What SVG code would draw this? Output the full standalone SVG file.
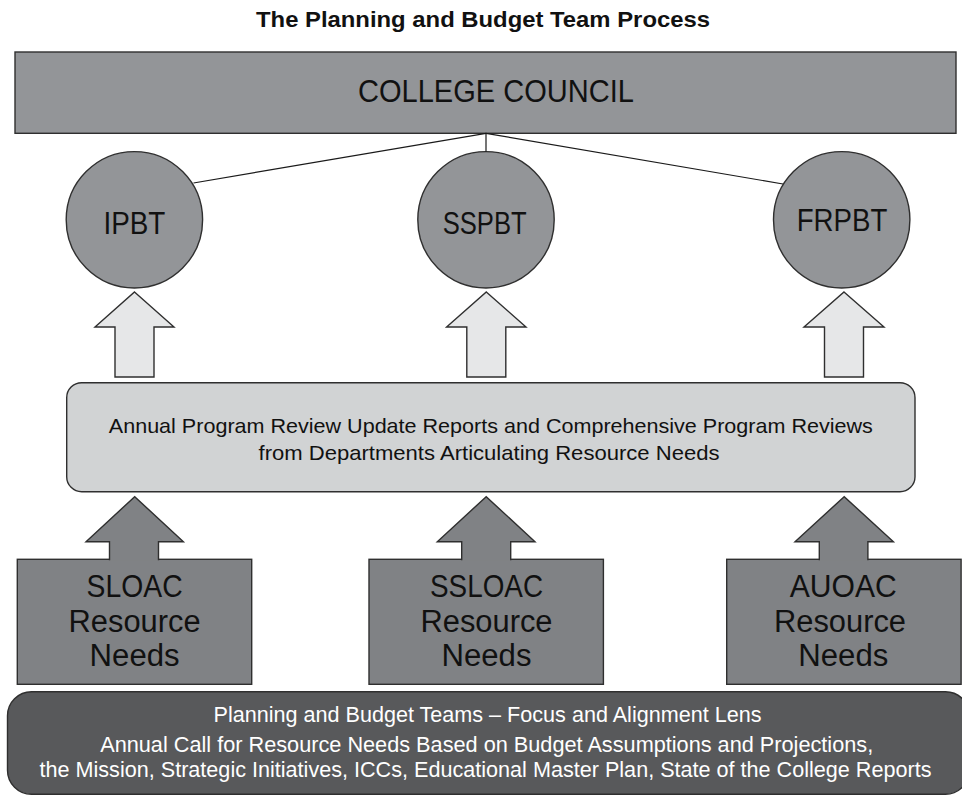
<svg xmlns="http://www.w3.org/2000/svg" width="962" height="795" viewBox="0 0 962 795">
<style>
text{font-family:"Liberation Sans",Arial,sans-serif;text-anchor:middle;fill:#111}
.title{font-weight:bold;font-size:22px}
.big{font-size:31px}
.mid{font-size:21px}
.low{font-size:22px;fill:#fff}
.s{stroke:#2f2f2f;stroke-width:1.4}
.gray{fill:#939598}
.light{fill:#d1d3d4}
.larrow{fill:#e6e7e8}
.dbox{fill:#808285}
.dark{fill:#58595b}
.line{stroke:#1a1a1a;stroke-width:1.2;fill:none}
</style>
<rect width="962" height="795" fill="#fff"/>
<text class="title" x="483" y="27" textLength="454" lengthAdjust="spacingAndGlyphs">The Planning and Budget Team Process</text>

<g id="college-council">
<rect class="s gray" x="15" y="52" width="941" height="81.3"/>
<text class="big" x="496" y="101.7" font-size="32" textLength="276" lengthAdjust="spacingAndGlyphs">COLLEGE COUNCIL</text>
</g>

<g id="ipbt">
<circle class="s gray" cx="134.4" cy="219.8" r="68.2"/>
<text class="big" x="134.4" y="233.5" textLength="62" lengthAdjust="spacingAndGlyphs">IPBT</text>
</g>
<g id="sspbt">
<circle class="s gray" cx="486" cy="219.8" r="68.2"/>
<text class="big" x="484.7" y="233.5" textLength="84" lengthAdjust="spacingAndGlyphs">SSPBT</text>
</g>
<g id="frpbt">
<circle class="s gray" cx="841.7" cy="219.8" r="68.2"/>
<text class="big" x="842" y="230.5" textLength="90.6" lengthAdjust="spacingAndGlyphs">FRPBT</text>
</g>

<g id="program-review">
<rect class="s light" x="66.7" y="382.7" width="848.3" height="109" rx="15"/>
<text class="mid" x="490.8" y="432.5" textLength="764" lengthAdjust="spacingAndGlyphs">Annual Program Review Update Reports and Comprehensive Program Reviews</text>
<text class="mid" x="489" y="460" textLength="461" lengthAdjust="spacingAndGlyphs">from Departments Articulating Resource Needs</text>
</g>

<g id="sloac">
<rect class="s dbox" x="17.3" y="559.3" width="234.4" height="125"/>
<text class="big" x="134.6" y="597" textLength="96" lengthAdjust="spacingAndGlyphs">SLOAC</text>
<text class="big" x="134.6" y="632" textLength="132" lengthAdjust="spacingAndGlyphs">Resource</text>
<text class="big" x="134.6" y="666" textLength="90" lengthAdjust="spacingAndGlyphs">Needs</text>
</g>
<g id="ssloac">
<rect class="s dbox" x="369" y="559.3" width="234.4" height="125"/>
<text class="big" x="486.5" y="597" textLength="113" lengthAdjust="spacingAndGlyphs">SSLOAC</text>
<text class="big" x="486.5" y="632" textLength="132" lengthAdjust="spacingAndGlyphs">Resource</text>
<text class="big" x="486.5" y="666" textLength="90" lengthAdjust="spacingAndGlyphs">Needs</text>
</g>
<g id="auoac">
<rect class="s dbox" x="726.7" y="559.3" width="234.4" height="125"/>
<text class="big" x="843.3" y="597" textLength="107" lengthAdjust="spacingAndGlyphs">AUOAC</text>
<text class="big" x="840" y="632" textLength="132" lengthAdjust="spacingAndGlyphs">Resource</text>
<text class="big" x="843.3" y="666" textLength="90" lengthAdjust="spacingAndGlyphs">Needs</text>
</g>

<g id="planning-lens">
<rect class="s dark" x="7.5" y="691.7" width="962" height="102.5" rx="24"/>
<text class="low" x="487.5" y="721.7" textLength="548" lengthAdjust="spacingAndGlyphs">Planning and Budget Teams – Focus and Alignment Lens</text>
<text class="low" x="486.7" y="751.7" textLength="773" lengthAdjust="spacingAndGlyphs">Annual Call for Resource Needs Based on Budget Assumptions and Projections,</text>
<text class="low" x="485.5" y="776.7" textLength="892" lengthAdjust="spacingAndGlyphs">the Mission, Strategic Initiatives, ICCs, Educational Master Plan, State of the College Reports</text>
</g>

<g id="connectors">
<line class="line" x1="486" y1="133.3" x2="193.5" y2="183"/>
<line class="line" x1="486" y1="133.3" x2="486" y2="151.6"/>
<line class="line" x1="486" y1="133.3" x2="783" y2="184"/>
<path class="s larrow" d="M134.5,292 L174,327 L154,327 L154,377 L115,377 L115,327 L95,327 Z"/>
<path class="s larrow" d="M486.3,292 L526,327 L505.8,327 L505.8,377 L466.8,377 L466.8,327 L446.6,327 Z"/>
<path class="s larrow" d="M844,292 L884,327 L863.5,327 L863.5,377 L824.5,377 L824.5,327 L804,327 Z"/>
<path class="s dbox" d="M109.5,560.2 L109.5,541.7 L86,541.7 L134.7,496.7 L183.4,541.7 L158.5,541.7 L158.5,560.2"/>
<path class="s dbox" d="M461.7,560.2 L461.7,541.7 L437.3,541.7 L486.2,496.7 L535,541.7 L510.7,541.7 L510.7,560.2"/>
<path class="s dbox" d="M819.3,560.2 L819.3,541.7 L795,541.7 L844.2,496.7 L893.4,541.7 L867.9,541.7 L867.9,560.2"/>
</g>
</svg>
